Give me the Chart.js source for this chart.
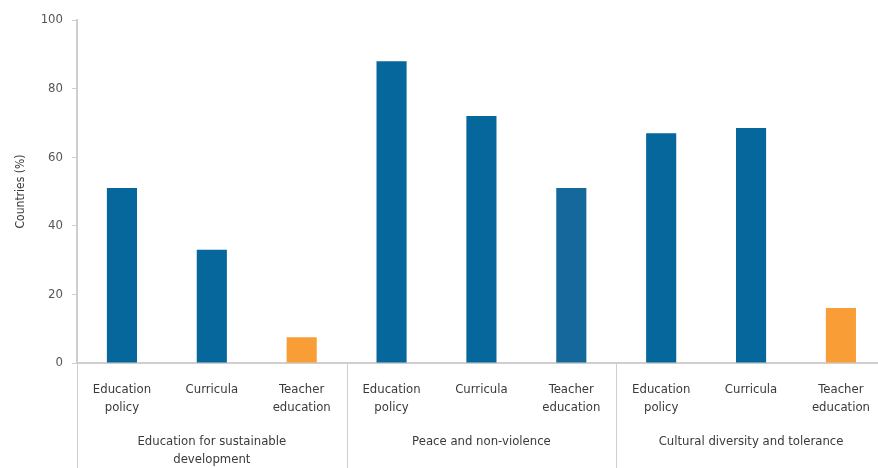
<!DOCTYPE html>
<html>
<head>
<meta charset="utf-8">
<script src="https://cdn.jsdelivr.net/npm/chart.js@4"></script>
<style>
    html, body { margin: 0; padding: 0; background: #fff; overflow: hidden; }
    #wrap { width: 888px; height: 468px; }
</style>
</head>
<body>
<div id="wrap"><canvas id="themesChart"></canvas></div>
<script>
const categories = [
    ['Education', 'policy'], 'Curricula', ['Teacher', 'education'],
    ['Education', 'policy'], 'Curricula', ['Teacher', 'education'],
    ['Education', 'policy'], 'Curricula', ['Teacher', 'education']
];
const groups = [
    ['Education for sustainable', 'development'],
    ['Peace and non-violence'],
    ['Cultural diversity and tolerance']
];
const countriesPct = [51, 33, 7.5, 88, 72, 51, 67, 68.5, 16];
const yTicks = [0, 20, 40, 60, 80, 100];

const barColors = [
    '#05679b', '#05679b', '#f99d37',
    '#05679b', '#05679b', '#14689b',
    '#05679b', '#05679b', '#f99d37'
];

const FONT = '"Liberation Sans Narrow", "DejaVu Sans Condensed", "Roboto", sans-serif';
const AXIS_GREY = '#cfcfcf';

// group labels + separators under the x axis
const groupPlugin = {
    id: 'groupLabels',
    afterDraw(chart) {
        const ctx = chart.ctx;
        const x = chart.scales.x;
        const area = chart.chartArea;
        const per = categories.length / groups.length;
        const step = x.getPixelForValue(1) - x.getPixelForValue(0);
        ctx.save();
        ctx.strokeStyle = AXIS_GREY;
        ctx.lineWidth = 1;
        for (let g = 0; g < groups.length; g++) {
            const first = g * per;
            const left = x.getPixelForValue(first) - step / 2;
            const right = x.getPixelForValue(first + per - 1) + step / 2;
            if (g === 0 || true) {
                const sx = Math.round(left) + 0.5;
                ctx.beginPath();
                ctx.moveTo(sx, area.bottom);
                ctx.lineTo(sx, chart.height);
                ctx.stroke();
            }
            ctx.fillStyle = '#3a3a3a';
            ctx.font = '13px ' + FONT;
            ctx.textAlign = 'center';
            ctx.textBaseline = 'middle';
            groups[g].forEach((line, i) => {
                ctx.fillText(line, (left + right) / 2, 442 + i * 18);
            });
        }
        ctx.restore();
    }
};

const ctx = document.getElementById('themesChart');
new Chart(ctx, {
    type: 'bar',
    data: {
        labels: categories,
        datasets: [{
            label: 'Countries (%)',
            data: countriesPct,
            backgroundColor: barColors,
            borderWidth: 0,
            barPercentage: 1,
            categoryPercentage: 0.335
        }]
    },
    options: {
        responsive: true,
        maintainAspectRatio: false,
        animation: false,
        layout: { padding: { top: 20, right: 1, bottom: 0, left: 0 } },
        plugins: {
            legend: { display: false },
            tooltip: { enabled: false }
        },
        scales: {
            x: {
                grid: { display: false, drawTicks: false },
                border: { color: AXIS_GREY, width: 2 },
                ticks: {
                    color: '#3a3a3a',
                    font: { family: FONT, size: 13, lineHeight: 1.35 },
                    padding: 18,
                    maxRotation: 0,
                    autoSkip: false
                },
                afterFit: (s) => { s.height = 105; }
            },
            y: {
                min: 0,
                max: 100,
                afterBuildTicks: (s) => { s.ticks = yTicks.map(v => ({ value: v })); },
                grid: { drawOnChartArea: false, drawTicks: true, tickLength: 5, color: AXIS_GREY },
                border: { color: AXIS_GREY, width: 2 },
                ticks: {
                    color: '#555',
                    font: { family: FONT, size: 13 },
                    padding: 9
                },
                title: {
                    display: true,
                    text: 'Countries (%)',
                    color: '#3a3a3a',
                    font: { family: FONT, size: 12 },
                    padding: { top: 14, bottom: 0 }
                },
                afterFit: (s) => { s.width = 77; }
            }
        }
    },
    plugins: [groupPlugin]
});
</script>
</body>
</html>
